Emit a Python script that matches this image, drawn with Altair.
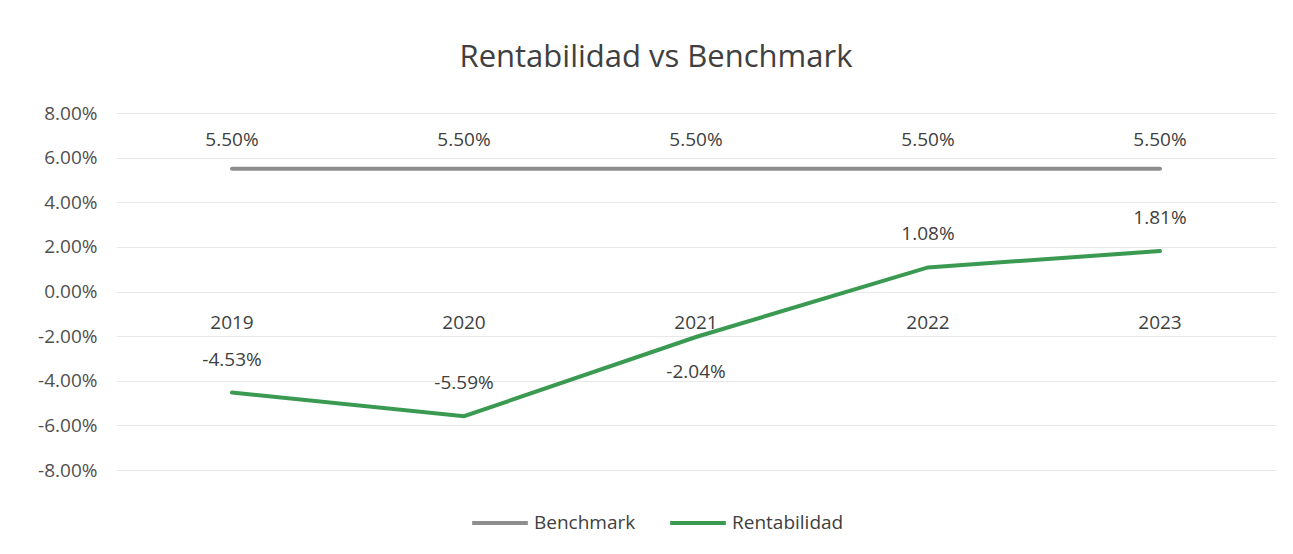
import altair as alt
import pandas as pd

years = ["2019", "2020", "2021", "2022", "2023"]
benchmark = [5.50, 5.50, 5.50, 5.50, 5.50]
rentabilidad = [-4.53, -5.59, -2.04, 1.08, 1.81]
series_names = ["Benchmark", "Rentabilidad"]
series_colors = ["#8e8e8e", "#3a9a52"]
y_ticks = [-8, -6, -4, -2, 0, 2, 4, 6, 8]

rows = []
for name, vals in zip(series_names, [benchmark, rentabilidad]):
    for yr, v in zip(years, vals):
        rows.append({"year": yr, "series": name, "value": v})
df = pd.DataFrame(rows)
years_df = pd.DataFrame({"year": years})

FONT = "Open Sans"
TXT = "#404040"
FS = 19

xenc = alt.X("year:O", sort=years, scale=alt.Scale(type="point", padding=0.5), axis=None)
yenc = alt.Y(
    "value:Q",
    scale=alt.Scale(domain=[-8, 8]),
    axis=alt.Axis(
        values=y_ticks,
        title=None,
        domain=False,
        ticks=False,
        labelPadding=19,
        labelFontSize=FS,
        labelColor="#505050",
        labelFont=FONT,
        gridColor="#e8e8e8",
        gridWidth=1,
        labelExpr="(datum.value < 0 ? '-' : '') + format(abs(datum.value), '.2f') + '%'",
    ),
)

base = alt.Chart(df).encode(x=xenc, y=yenc)

lines = base.mark_line(strokeWidth=4, strokeCap="round").encode(
    color=alt.Color(
        "series:N",
        scale=alt.Scale(domain=series_names, range=series_colors),
        legend=alt.Legend(
            title=None,
            orient="none",
            direction="horizontal",
            legendX=354,
            legendY=380,
            symbolType="stroke",
            symbolSize=3100,
            symbolStrokeWidth=4,
            labelFontSize=FS,
            labelFont=FONT,
            labelColor=TXT,
            labelOffset=4,
            columnPadding=26,
        ),
    )
)

label_calc = "(datum.value < 0 ? '-' : '') + format(abs(datum.value), '.2f') + '%'"

bench_labels = base.transform_filter("datum.series == 'Benchmark'").transform_calculate(
    label=label_calc
).mark_text(dy=-29, fontSize=FS, font=FONT, color=TXT).encode(text="label:N")

rent_above = base.transform_filter(
    "datum.series == 'Rentabilidad' && datum.year != '2021'"
).transform_calculate(label=label_calc).mark_text(
    dy=-33, fontSize=FS, font=FONT, color=TXT
).encode(text="label:N")

rent_below = base.transform_filter(
    "datum.series == 'Rentabilidad' && datum.year == '2021'"
).transform_calculate(label=label_calc).mark_text(
    dy=35, fontSize=FS, font=FONT, color=TXT
).encode(text="label:N")

year_labels = alt.Chart(years_df).mark_text(
    dy=31, fontSize=FS, font=FONT, color=TXT
).encode(x=xenc, y=alt.datum(0), text="year:N")

chart = (
    alt.layer(lines, bench_labels, rent_above, rent_below, year_labels)
    .properties(
        width=1160,
        height=357,
        autosize=alt.AutoSizeParams(type="none"),
        padding={"left": 108, "top": 105, "right": 9, "bottom": 76},
        background="white",
        title=alt.TitleParams(
            "Rentabilidad vs Benchmark",
            fontSize=31,
            font=FONT,
            fontWeight="normal",
            color=TXT,
            anchor="middle",
            dx=-40,
            offset=30,
        ),
    )
    .configure_view(stroke=None)
)

chart.save("out.html", embed_options={"renderer": "svg", "actions": False})
